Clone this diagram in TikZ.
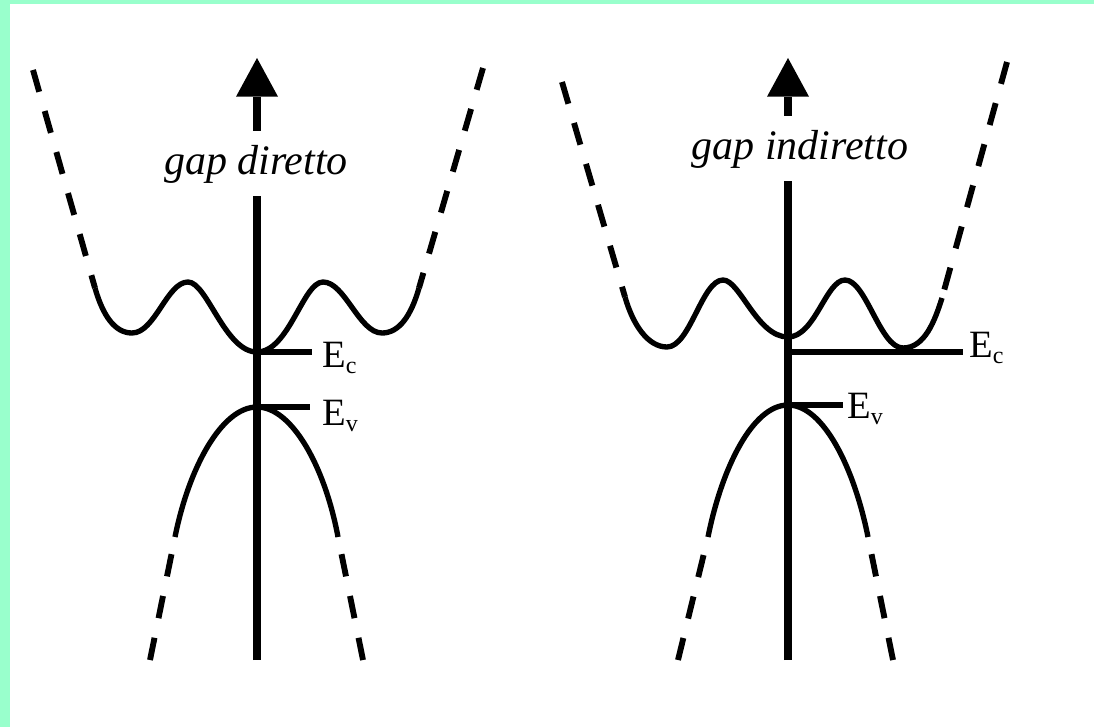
\documentclass[tikz,border=0pt]{standalone}
\usepackage{fontspec}
\setmainfont{Liberation Serif}
\usetikzlibrary{arrows.meta}
\definecolor{mint}{RGB}{153,255,204}
\begin{document}
\begin{tikzpicture}[x=0.75pt,y=-0.75pt,
  band/.style={line width=4pt, line join=round},
  banddash/.style={line width=4.4pt, dash pattern=on 17pt off 15pt},
  axisline/.style={line width=6.5pt},
  level/.style={line width=5.2pt},
  gaplabel/.style={font=\fontsize{31.5}{32}\selectfont\itshape, inner sep=0pt,
    text height=33pt, text depth=15.75pt, anchor=base},
  elabel/.style={font=\fontsize{29}{30}\selectfont, inner sep=0pt, anchor=base west},
  tip/.style={-{Triangle[width=31.5pt,length=29pt,line width=0pt]}}
]
\newcommand{\sub}[1]{\raisebox{-4.5pt}{\fontsize{18}{18}\selectfont #1}}
% background and margins
\fill[mint] (0,0) rectangle (1094,727);
\fill[white] (10,4) rectangle (1094,727);
\useasboundingbox (0,0) rectangle (1094,727);

% ---------------- left: gap diretto ----------------
\coordinate (Lbot) at (257,660);
\coordinate (Ltip) at (257,58);
\node[gaplabel] (Lgap) at (256,175) {gap diretto};
\draw[axisline] (Lbot) -- (Lbot |- Lgap.south);
\draw[axisline,tip] (Ltip |- Lgap.north) -- (Ltip);

% conduction band
\draw[band] (95,288) .. controls (103,316) and (115,333) .. (132,333)
  .. controls (155,333) and (167,282) .. (188,282)
  .. controls (207,282) and (225,352) .. (257,352)
  .. controls (289,352) and (303,282) .. (323,282)
  .. controls (345,282) and (359,333) .. (382,333)
  .. controls (399,333) and (411,316) .. (419,288);
\draw[banddash] (33,70) -- (95,288);
\draw[banddash] (483,68) -- (419,288);

% valence band
\draw[band] (175,537) .. controls (189,467) and (222,407) .. (257,407)
  .. controls (292,407) and (325,467) .. (338,537);
\draw[banddash] (150,660) -- (175,537);
\draw[banddash] (363,660) -- (338,537);

% levels
\coordinate (LEc0) at (257,352); \coordinate (LEc1) at (312,352);
\coordinate (LEv0) at (257,407); \coordinate (LEv1) at (310,407);
\draw[level] (LEc0) -- (LEc1);
\draw[level] (LEv0) -- (LEv1);
\node[elabel] (LEc) at (322,367) {E\sub{c}};
\node[elabel] (LEv) at (322,425) {E\sub{v}};

% ---------------- right: gap indiretto ----------------
\coordinate (Rbot) at (788,660);
\coordinate (Rtip) at (788,58);
\node[gaplabel] (Rgap) at (800,160) {gap indiretto};
\draw[axisline] (Rbot) -- (Rbot |- Rgap.south);
\draw[axisline,tip] (Rtip |- Rgap.north) -- (Rtip);

% conduction band
\draw[band] (625,297) .. controls (633,325) and (648,347) .. (667,347)
  .. controls (690,347) and (702,280) .. (723,280)
  .. controls (740,280) and (757,337) .. (788,337)
  .. controls (815,337) and (826,280) .. (845,280)
  .. controls (866,280) and (880,348) .. (903,348)
  .. controls (925,348) and (935,320) .. (942,298);
\draw[banddash] (562,82) -- (625,297);
\draw[banddash] (1007,62) -- (942,298);

% valence band
\draw[band] (708,537) .. controls (722,467) and (753,405) .. (788,405)
  .. controls (823,405) and (854,467) .. (868,537);
\draw[banddash] (678,660) -- (708,537);
\draw[banddash] (893,660) -- (868,537);

% levels
\coordinate (REc0) at (788,352); \coordinate (REc1) at (963,352);
\coordinate (REv0) at (788,405); \coordinate (REv1) at (843,405);
\draw[level] (REc0) -- (REc1);
\draw[level] (REv0) -- (REv1);
\node[elabel] (REc) at (969,357) {E\sub{c}};
\node[elabel] (REv) at (847,418) {E\sub{v}};
\end{tikzpicture}
\end{document}
